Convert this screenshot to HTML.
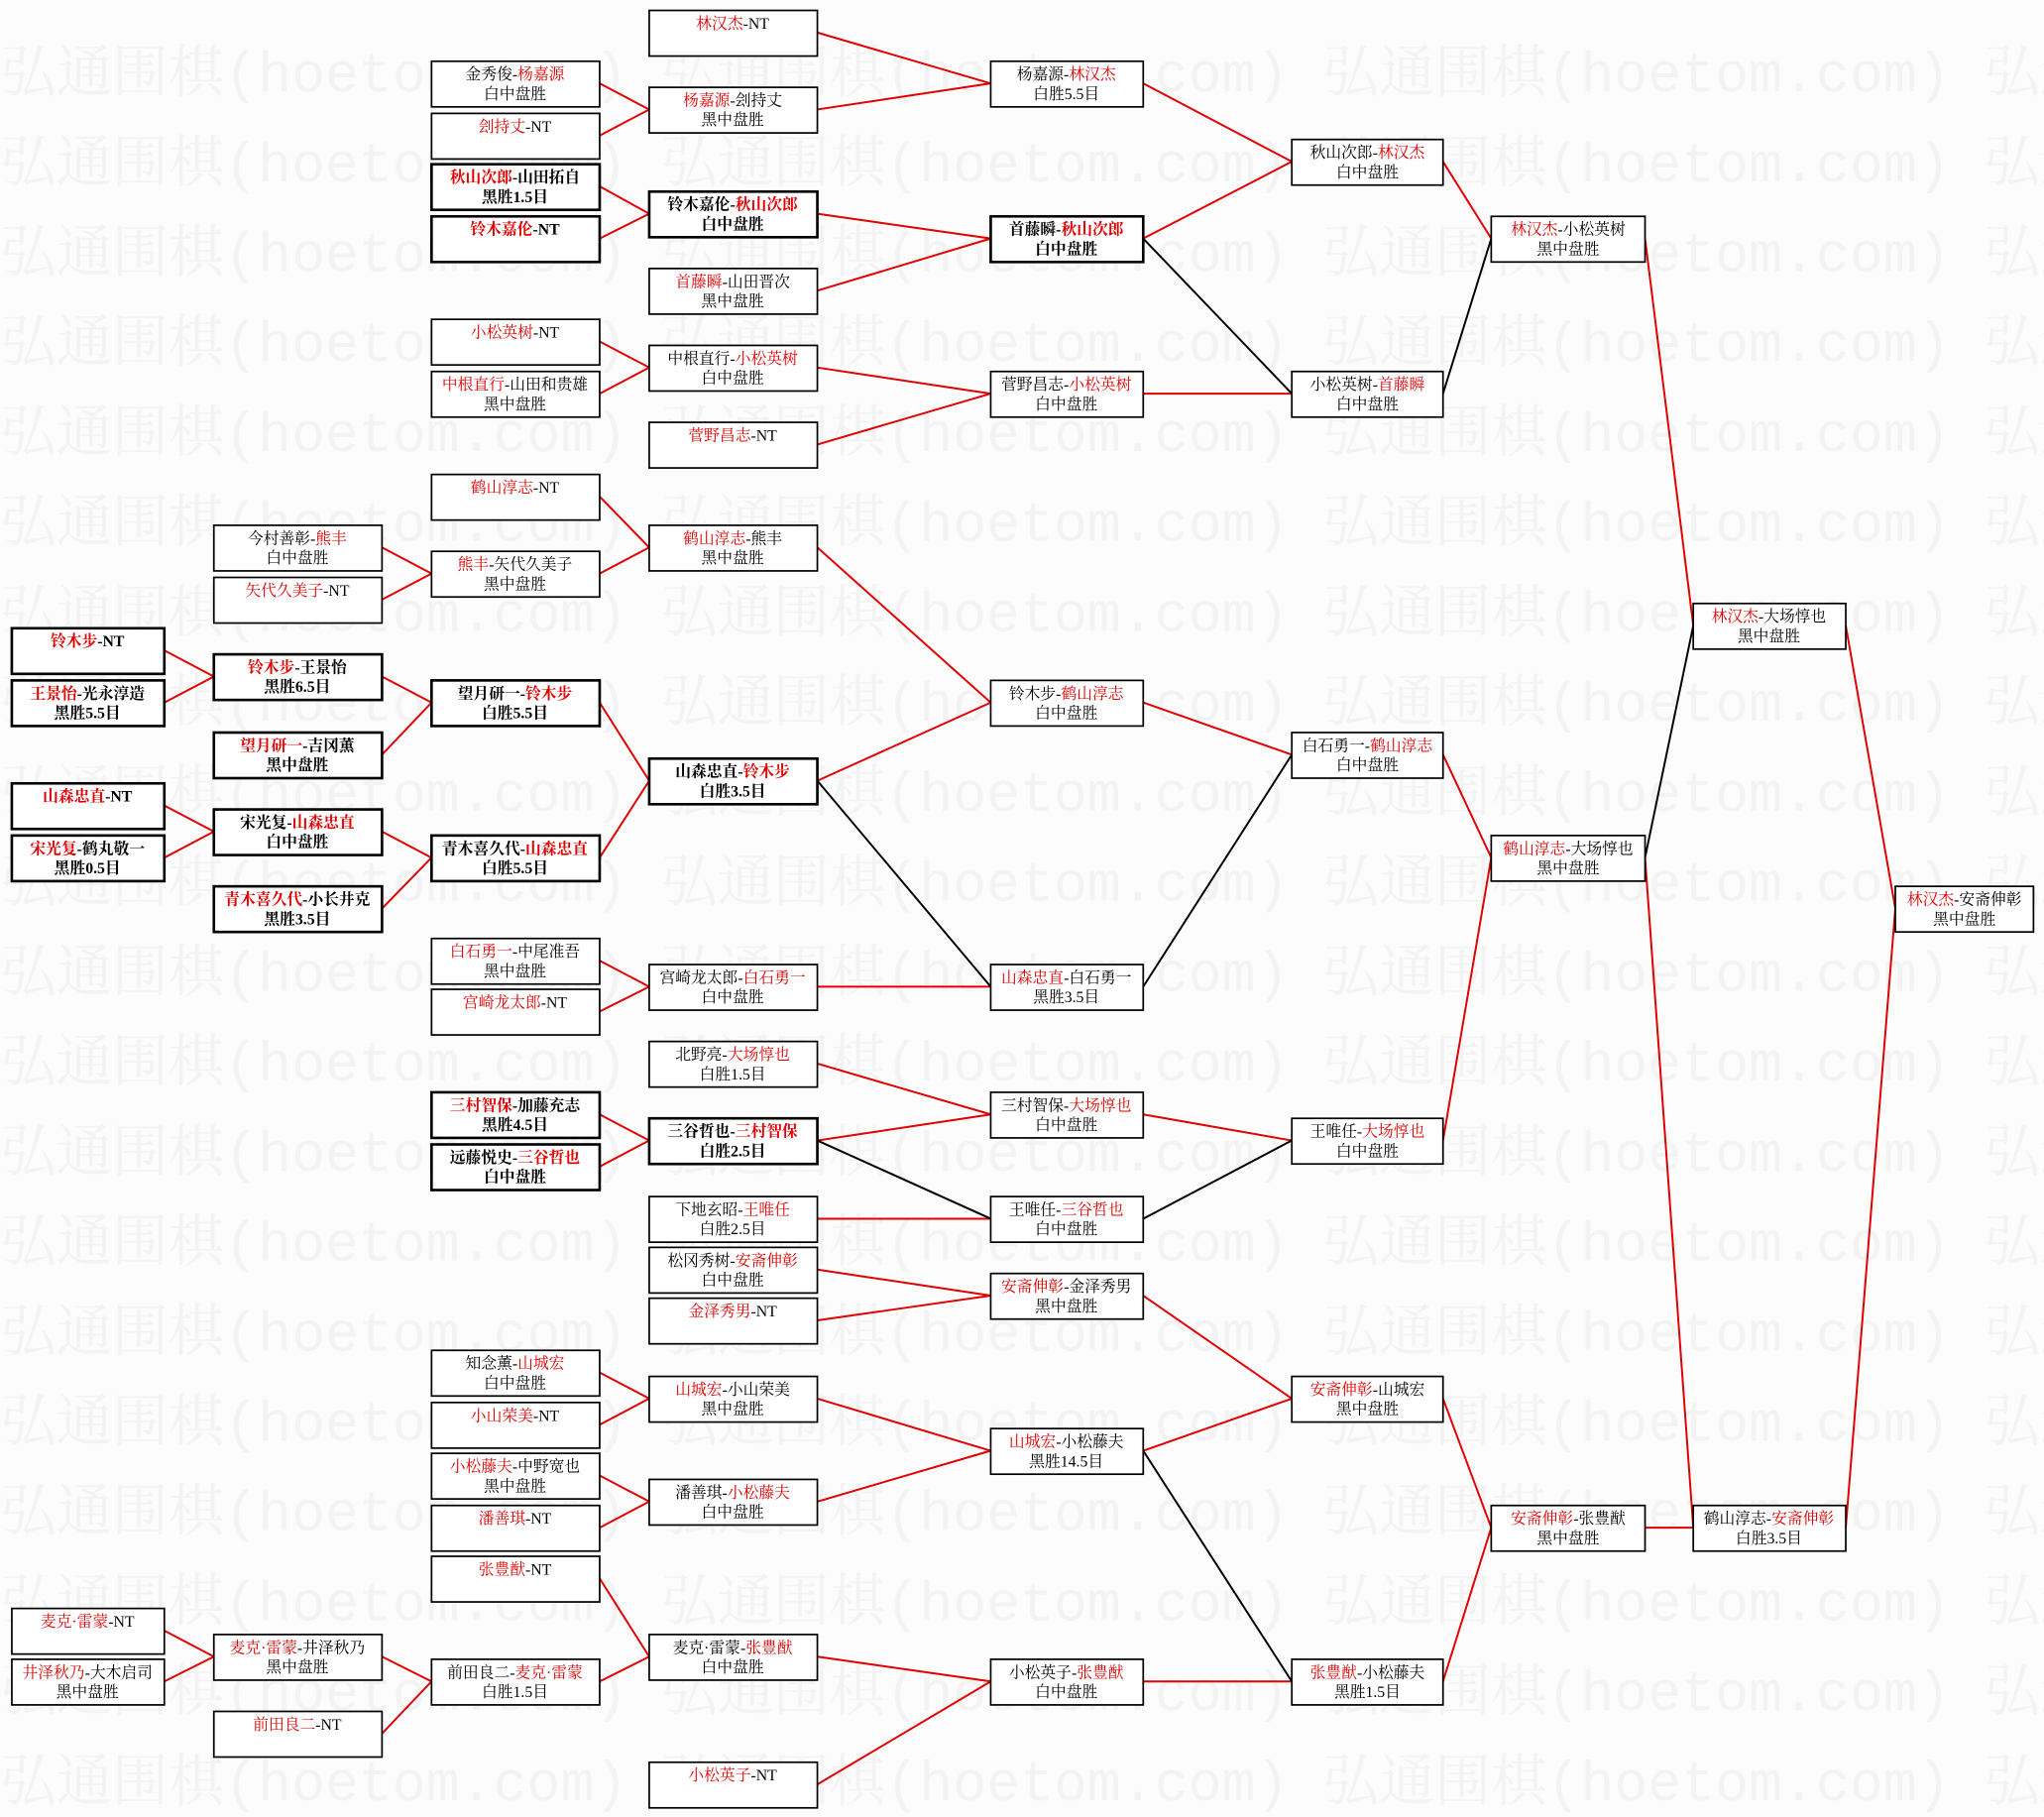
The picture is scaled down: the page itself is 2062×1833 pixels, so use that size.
<!DOCTYPE html>
<html><head><meta charset="utf-8"><style>
html,body{margin:0;padding:0;background:#fcfcfc;}
svg{display:block;}
.b rect{fill:#fff;stroke:#000;}
text{font-family:"Liberation Serif","Noto Serif CJK SC",serif;font-size:12px;fill:#000;text-anchor:middle;}
.w{font-family:"Liberation Mono","Noto Serif CJK SC",monospace;font-size:43px;fill:#f3f3f3;text-anchor:start;}
tspan.r{fill:#e00000;}
.bd text{font-weight:bold;}
line{stroke-width:1.5;}
</style></head><body>
<svg width="2062" height="1833" viewBox="0 0 1568 1394" xmlns="http://www.w3.org/2000/svg">
<rect width="1568" height="1394" fill="#fcfcfc"/>
<g id="wm">
<text class="w" x="0" y="70">弘通围棋(hoetom.com) 弘通围棋(hoetom.com) 弘通围棋(hoetom.com) 弘通围棋(hoetom.com)</text>
<text class="w" x="0" y="139">弘通围棋(hoetom.com) 弘通围棋(hoetom.com) 弘通围棋(hoetom.com) 弘通围棋(hoetom.com)</text>
<text class="w" x="0" y="208">弘通围棋(hoetom.com) 弘通围棋(hoetom.com) 弘通围棋(hoetom.com) 弘通围棋(hoetom.com)</text>
<text class="w" x="0" y="277">弘通围棋(hoetom.com) 弘通围棋(hoetom.com) 弘通围棋(hoetom.com) 弘通围棋(hoetom.com)</text>
<text class="w" x="0" y="346">弘通围棋(hoetom.com) 弘通围棋(hoetom.com) 弘通围棋(hoetom.com) 弘通围棋(hoetom.com)</text>
<text class="w" x="0" y="415">弘通围棋(hoetom.com) 弘通围棋(hoetom.com) 弘通围棋(hoetom.com) 弘通围棋(hoetom.com)</text>
<text class="w" x="0" y="484">弘通围棋(hoetom.com) 弘通围棋(hoetom.com) 弘通围棋(hoetom.com) 弘通围棋(hoetom.com)</text>
<text class="w" x="0" y="553">弘通围棋(hoetom.com) 弘通围棋(hoetom.com) 弘通围棋(hoetom.com) 弘通围棋(hoetom.com)</text>
<text class="w" x="0" y="622">弘通围棋(hoetom.com) 弘通围棋(hoetom.com) 弘通围棋(hoetom.com) 弘通围棋(hoetom.com)</text>
<text class="w" x="0" y="691">弘通围棋(hoetom.com) 弘通围棋(hoetom.com) 弘通围棋(hoetom.com) 弘通围棋(hoetom.com)</text>
<text class="w" x="0" y="760">弘通围棋(hoetom.com) 弘通围棋(hoetom.com) 弘通围棋(hoetom.com) 弘通围棋(hoetom.com)</text>
<text class="w" x="0" y="829">弘通围棋(hoetom.com) 弘通围棋(hoetom.com) 弘通围棋(hoetom.com) 弘通围棋(hoetom.com)</text>
<text class="w" x="0" y="898">弘通围棋(hoetom.com) 弘通围棋(hoetom.com) 弘通围棋(hoetom.com) 弘通围棋(hoetom.com)</text>
<text class="w" x="0" y="967">弘通围棋(hoetom.com) 弘通围棋(hoetom.com) 弘通围棋(hoetom.com) 弘通围棋(hoetom.com)</text>
<text class="w" x="0" y="1036">弘通围棋(hoetom.com) 弘通围棋(hoetom.com) 弘通围棋(hoetom.com) 弘通围棋(hoetom.com)</text>
<text class="w" x="0" y="1105">弘通围棋(hoetom.com) 弘通围棋(hoetom.com) 弘通围棋(hoetom.com) 弘通围棋(hoetom.com)</text>
<text class="w" x="0" y="1174">弘通围棋(hoetom.com) 弘通围棋(hoetom.com) 弘通围棋(hoetom.com) 弘通围棋(hoetom.com)</text>
<text class="w" x="0" y="1243">弘通围棋(hoetom.com) 弘通围棋(hoetom.com) 弘通围棋(hoetom.com) 弘通围棋(hoetom.com)</text>
<text class="w" x="0" y="1312">弘通围棋(hoetom.com) 弘通围棋(hoetom.com) 弘通围棋(hoetom.com) 弘通围棋(hoetom.com)</text>
<text class="w" x="0" y="1381">弘通围棋(hoetom.com) 弘通围棋(hoetom.com) 弘通围棋(hoetom.com) 弘通围棋(hoetom.com)</text>
</g>
<g stroke="#e00000">
<line x1="627" y1="25" x2="760" y2="64"/><line x1="627" y1="84" x2="760" y2="64"/>
<line x1="627" y1="164" x2="760" y2="183"/><line x1="627" y1="223" x2="760" y2="183"/>
<line x1="627" y1="282" x2="760" y2="302"/><line x1="627" y1="341" x2="760" y2="302"/>
<line x1="460" y1="64" x2="498" y2="84"/><line x1="460" y1="104" x2="498" y2="84"/>
<line x1="460" y1="143" x2="498" y2="164"/><line x1="460" y1="183" x2="498" y2="164"/>
<line x1="460" y1="262" x2="498" y2="282"/><line x1="460" y1="302" x2="498" y2="282"/>
<line x1="877" y1="64" x2="991" y2="124"/><line x1="877" y1="183" x2="991" y2="124"/>
<line x1="877" y1="302" x2="991" y2="302"/>
<line x1="1107" y1="124" x2="1144" y2="183"/>
<line x1="1262" y1="183" x2="1299" y2="480"/>
<line x1="1262" y1="658" x2="1299" y2="1172"/>
<line x1="1416" y1="480" x2="1454" y2="697"/><line x1="1416" y1="1172" x2="1454" y2="697"/>
<line x1="460" y1="381" x2="498" y2="420"/><line x1="460" y1="440" x2="498" y2="420"/>
<line x1="293" y1="420" x2="331" y2="440"/><line x1="293" y1="460" x2="331" y2="440"/>
<line x1="126" y1="499" x2="164" y2="519"/><line x1="126" y1="539" x2="164" y2="519"/>
<line x1="293" y1="519" x2="331" y2="539"/><line x1="293" y1="579" x2="331" y2="539"/>
<line x1="126" y1="618" x2="164" y2="638"/><line x1="126" y1="658" x2="164" y2="638"/>
<line x1="293" y1="638" x2="331" y2="658"/><line x1="293" y1="697" x2="331" y2="658"/>
<line x1="460" y1="539" x2="498" y2="599"/><line x1="460" y1="658" x2="498" y2="599"/>
<line x1="627" y1="420" x2="760" y2="539"/><line x1="627" y1="599" x2="760" y2="539"/>
<line x1="627" y1="757" x2="760" y2="757"/>
<line x1="460" y1="737" x2="498" y2="757"/><line x1="460" y1="776" x2="498" y2="757"/>
<line x1="877" y1="539" x2="991" y2="579"/>
<line x1="1107" y1="579" x2="1144" y2="658"/><line x1="1107" y1="875" x2="1144" y2="658"/>
<line x1="627" y1="816" x2="760" y2="855"/><line x1="627" y1="875" x2="760" y2="855"/>
<line x1="627" y1="935" x2="760" y2="935"/>
<line x1="460" y1="855" x2="498" y2="875"/><line x1="460" y1="895" x2="498" y2="875"/>
<line x1="877" y1="855" x2="991" y2="875"/>
<line x1="627" y1="974" x2="760" y2="994"/><line x1="627" y1="1013" x2="760" y2="994"/>
<line x1="460" y1="1053" x2="498" y2="1073"/><line x1="460" y1="1093" x2="498" y2="1073"/>
<line x1="460" y1="1132" x2="498" y2="1152"/><line x1="460" y1="1172" x2="498" y2="1152"/>
<line x1="627" y1="1073" x2="760" y2="1113"/><line x1="627" y1="1152" x2="760" y2="1113"/>
<line x1="877" y1="994" x2="991" y2="1073"/><line x1="877" y1="1113" x2="991" y2="1073"/>
<line x1="877" y1="1290" x2="991" y2="1290"/>
<line x1="1107" y1="1073" x2="1144" y2="1172"/><line x1="1107" y1="1290" x2="1144" y2="1172"/>
<line x1="1262" y1="1172" x2="1299" y2="1172"/>
<line x1="460" y1="1211" x2="498" y2="1271"/><line x1="460" y1="1290" x2="498" y2="1271"/>
<line x1="126" y1="1251" x2="164" y2="1271"/><line x1="126" y1="1290" x2="164" y2="1271"/>
<line x1="293" y1="1271" x2="331" y2="1290"/><line x1="293" y1="1330" x2="331" y2="1290"/>
<line x1="627" y1="1271" x2="760" y2="1290"/><line x1="627" y1="1369" x2="760" y2="1290"/>
</g>
<g stroke="#000">
<line x1="877" y1="183" x2="991" y2="302"/>
<line x1="1107" y1="302" x2="1144" y2="183"/>
<line x1="1262" y1="658" x2="1299" y2="480"/>
<line x1="627" y1="599" x2="760" y2="757"/>
<line x1="877" y1="757" x2="991" y2="579"/>
<line x1="627" y1="875" x2="760" y2="935"/>
<line x1="877" y1="935" x2="991" y2="875"/>
<line x1="877" y1="1113" x2="991" y2="1290"/>
</g>

<g class="b" stroke-width="1.3">
<rect x="498" y="8" width="129" height="35"/><rect x="498" y="67" width="129" height="35"/>
<rect x="498" y="206" width="129" height="35"/><rect x="498" y="265" width="129" height="35"/>
<rect x="498" y="324" width="129" height="35"/><rect x="498" y="403" width="129" height="35"/>
<rect x="498" y="740" width="129" height="35"/><rect x="498" y="799" width="129" height="35"/>
<rect x="498" y="918" width="129" height="35"/><rect x="498" y="957" width="129" height="35"/>
<rect x="498" y="996" width="129" height="35"/><rect x="498" y="1056" width="129" height="35"/>
<rect x="498" y="1135" width="129" height="35"/><rect x="498" y="1254" width="129" height="35"/>
<rect x="498" y="1352" width="129" height="35"/>
<rect x="331" y="47" width="129" height="35"/><rect x="331" y="87" width="129" height="35"/>
<rect x="331" y="245" width="129" height="35"/><rect x="331" y="285" width="129" height="35"/>
<rect x="331" y="364" width="129" height="35"/><rect x="331" y="423" width="129" height="35"/>
<rect x="331" y="720" width="129" height="35"/><rect x="331" y="759" width="129" height="35"/>
<rect x="331" y="1036" width="129" height="35"/><rect x="331" y="1076" width="129" height="35"/>
<rect x="331" y="1115" width="129" height="35"/><rect x="331" y="1155" width="129" height="35"/>
<rect x="331" y="1194" width="129" height="35"/><rect x="331" y="1273" width="129" height="35"/>
<rect x="164" y="403" width="129" height="35"/><rect x="164" y="443" width="129" height="35"/>
<rect x="164" y="1254" width="129" height="35"/><rect x="164" y="1313" width="129" height="35"/>
<rect x="9" y="1234" width="117" height="35"/><rect x="9" y="1273" width="117" height="35"/>
<rect x="760" y="47" width="117" height="35"/><rect x="760" y="285" width="117" height="35"/>
<rect x="760" y="522" width="117" height="35"/><rect x="760" y="740" width="117" height="35"/>
<rect x="760" y="838" width="117" height="35"/><rect x="760" y="918" width="117" height="35"/>
<rect x="760" y="977" width="117" height="35"/><rect x="760" y="1096" width="117" height="35"/>
<rect x="760" y="1273" width="117" height="35"/>
<rect x="991" y="107" width="116" height="35"/><rect x="991" y="285" width="116" height="35"/>
<rect x="991" y="562" width="116" height="35"/><rect x="991" y="858" width="116" height="35"/>
<rect x="991" y="1056" width="116" height="35"/><rect x="991" y="1273" width="116" height="35"/>
<rect x="1144" y="166" width="118" height="35"/><rect x="1144" y="641" width="118" height="35"/>
<rect x="1144" y="1155" width="118" height="35"/>
<rect x="1299" y="463" width="117" height="35"/><rect x="1299" y="1155" width="117" height="35"/>
<rect x="1454" y="680" width="106" height="35"/>
</g>
<g class="b" stroke-width="2">
<rect x="498" y="147" width="129" height="35"/><rect x="498" y="582" width="129" height="35"/>
<rect x="498" y="858" width="129" height="35"/>
<rect x="331" y="126" width="129" height="35"/><rect x="331" y="166" width="129" height="35"/>
<rect x="331" y="522" width="129" height="35"/><rect x="331" y="641" width="129" height="35"/>
<rect x="331" y="838" width="129" height="35"/><rect x="331" y="878" width="129" height="35"/>
<rect x="164" y="502" width="129" height="35"/><rect x="164" y="562" width="129" height="35"/>
<rect x="164" y="621" width="129" height="35"/><rect x="164" y="680" width="129" height="35"/>
<rect x="9" y="482" width="117" height="35"/><rect x="9" y="522" width="117" height="35"/>
<rect x="9" y="601" width="117" height="35"/><rect x="9" y="641" width="117" height="35"/>
<rect x="760" y="166" width="117" height="35"/>
</g>

<g>
<text x="562" y="22"><tspan class="r">林汉杰</tspan>-NT</text>
<text x="562" y="81"><tspan class="r">杨嘉源</tspan>-刽持丈</text><text x="562" y="96">黑中盘胜</text>
<text x="562" y="220"><tspan class="r">首藤瞬</tspan>-山田晋次</text><text x="562" y="235">黑中盘胜</text>
<text x="562" y="279">中根直行-<tspan class="r">小松英树</tspan></text><text x="562" y="294">白中盘胜</text>
<text x="562" y="338"><tspan class="r">菅野昌志</tspan>-NT</text>
<text x="562" y="417"><tspan class="r">鹤山淳志</tspan>-熊丰</text><text x="562" y="432">黑中盘胜</text>
<text x="562" y="754">宫崎龙太郎-<tspan class="r">白石勇一</tspan></text><text x="562" y="769">白中盘胜</text>
<text x="562" y="813">北野亮-<tspan class="r">大场惇也</tspan></text><text x="562" y="828">白胜1.5目</text>
<text x="562" y="932">下地玄昭-<tspan class="r">王唯任</tspan></text><text x="562" y="947">白胜2.5目</text>
<text x="562" y="971">松冈秀树-<tspan class="r">安斋伸彰</tspan></text><text x="562" y="986">白中盘胜</text>
<text x="562" y="1010"><tspan class="r">金泽秀男</tspan>-NT</text>
<text x="562" y="1070"><tspan class="r">山城宏</tspan>-小山荣美</text><text x="562" y="1085">黑中盘胜</text>
<text x="562" y="1149">潘善琪-<tspan class="r">小松藤夫</tspan></text><text x="562" y="1164">白中盘胜</text>
<text x="562" y="1268">麦克·雷蒙-<tspan class="r">张豊猷</tspan></text><text x="562" y="1283">白中盘胜</text>
<text x="562" y="1366"><tspan class="r">小松英子</tspan>-NT</text>

<text x="395" y="61">金秀俊-<tspan class="r">杨嘉源</tspan></text><text x="395" y="76">白中盘胜</text>
<text x="395" y="101"><tspan class="r">刽持丈</tspan>-NT</text>
<text x="395" y="259"><tspan class="r">小松英树</tspan>-NT</text>
<text x="395" y="299"><tspan class="r">中根直行</tspan>-山田和贵雄</text><text x="395" y="314">黑中盘胜</text>
<text x="395" y="378"><tspan class="r">鹤山淳志</tspan>-NT</text>
<text x="395" y="437"><tspan class="r">熊丰</tspan>-矢代久美子</text><text x="395" y="452">黑中盘胜</text>
<text x="395" y="734"><tspan class="r">白石勇一</tspan>-中尾准吾</text><text x="395" y="749">黑中盘胜</text>
<text x="395" y="773"><tspan class="r">宫崎龙太郎</tspan>-NT</text>
<text x="395" y="1050">知念薰-<tspan class="r">山城宏</tspan></text><text x="395" y="1065">白中盘胜</text>
<text x="395" y="1090"><tspan class="r">小山荣美</tspan>-NT</text>
<text x="395" y="1129"><tspan class="r">小松藤夫</tspan>-中野宽也</text><text x="395" y="1144">黑中盘胜</text>
<text x="395" y="1169"><tspan class="r">潘善琪</tspan>-NT</text>
<text x="395" y="1208"><tspan class="r">张豊猷</tspan>-NT</text>
<text x="395" y="1287">前田良二-<tspan class="r">麦克·雷蒙</tspan></text><text x="395" y="1302">白胜1.5目</text>

<text x="228" y="417">今村善彰-<tspan class="r">熊丰</tspan></text><text x="228" y="432">白中盘胜</text>
<text x="228" y="457"><tspan class="r">矢代久美子</tspan>-NT</text>
<text x="228" y="1268"><tspan class="r">麦克·雷蒙</tspan>-井泽秋乃</text><text x="228" y="1283">黑中盘胜</text>
<text x="228" y="1327"><tspan class="r">前田良二</tspan>-NT</text>
<text x="67" y="1248"><tspan class="r">麦克·雷蒙</tspan>-NT</text>
<text x="67" y="1287"><tspan class="r">井泽秋乃</tspan>-大木启司</text><text x="67" y="1302">黑中盘胜</text>

<text x="818" y="61">杨嘉源-<tspan class="r">林汉杰</tspan></text><text x="818" y="76">白胜5.5目</text>
<text x="818" y="299">菅野昌志-<tspan class="r">小松英树</tspan></text><text x="818" y="314">白中盘胜</text>
<text x="818" y="536">铃木步-<tspan class="r">鹤山淳志</tspan></text><text x="818" y="551">白中盘胜</text>
<text x="818" y="754"><tspan class="r">山森忠直</tspan>-白石勇一</text><text x="818" y="769">黑胜3.5目</text>
<text x="818" y="852">三村智保-<tspan class="r">大场惇也</tspan></text><text x="818" y="867">白中盘胜</text>
<text x="818" y="932">王唯任-<tspan class="r">三谷哲也</tspan></text><text x="818" y="947">白中盘胜</text>
<text x="818" y="991"><tspan class="r">安斋伸彰</tspan>-金泽秀男</text><text x="818" y="1006">黑中盘胜</text>
<text x="818" y="1110"><tspan class="r">山城宏</tspan>-小松藤夫</text><text x="818" y="1125">黑胜14.5目</text>
<text x="818" y="1287">小松英子-<tspan class="r">张豊猷</tspan></text><text x="818" y="1302">白中盘胜</text>

<text x="1049" y="121">秋山次郎-<tspan class="r">林汉杰</tspan></text><text x="1049" y="136">白中盘胜</text>
<text x="1049" y="299">小松英树-<tspan class="r">首藤瞬</tspan></text><text x="1049" y="314">白中盘胜</text>
<text x="1049" y="576">白石勇一-<tspan class="r">鹤山淳志</tspan></text><text x="1049" y="591">白中盘胜</text>
<text x="1049" y="872">王唯任-<tspan class="r">大场惇也</tspan></text><text x="1049" y="887">白中盘胜</text>
<text x="1049" y="1070"><tspan class="r">安斋伸彰</tspan>-山城宏</text><text x="1049" y="1085">黑中盘胜</text>
<text x="1049" y="1287"><tspan class="r">张豊猷</tspan>-小松藤夫</text><text x="1049" y="1302">黑胜1.5目</text>

<text x="1203" y="180"><tspan class="r">林汉杰</tspan>-小松英树</text><text x="1203" y="195">黑中盘胜</text>
<text x="1203" y="655"><tspan class="r">鹤山淳志</tspan>-大场惇也</text><text x="1203" y="670">黑中盘胜</text>
<text x="1203" y="1169"><tspan class="r">安斋伸彰</tspan>-张豊猷</text><text x="1203" y="1184">黑中盘胜</text>
<text x="1357" y="477"><tspan class="r">林汉杰</tspan>-大场惇也</text><text x="1357" y="492">黑中盘胜</text>
<text x="1357" y="1169">鹤山淳志-<tspan class="r">安斋伸彰</tspan></text><text x="1357" y="1184">白胜3.5目</text>
<text x="1507" y="694"><tspan class="r">林汉杰</tspan>-安斋伸彰</text><text x="1507" y="709">黑中盘胜</text>
</g>
<g class="bd">
<text x="562" y="161">铃木嘉伦-<tspan class="r">秋山次郎</tspan></text><text x="562" y="176">白中盘胜</text>
<text x="562" y="596">山森忠直-<tspan class="r">铃木步</tspan></text><text x="562" y="611">白胜3.5目</text>
<text x="562" y="872">三谷哲也-<tspan class="r">三村智保</tspan></text><text x="562" y="887">白胜2.5目</text>
<text x="395" y="140"><tspan class="r">秋山次郎</tspan>-山田拓自</text><text x="395" y="155">黑胜1.5目</text>
<text x="395" y="180"><tspan class="r">铃木嘉伦</tspan>-NT</text>
<text x="395" y="536">望月研一-<tspan class="r">铃木步</tspan></text><text x="395" y="551">白胜5.5目</text>
<text x="395" y="655">青木喜久代-<tspan class="r">山森忠直</tspan></text><text x="395" y="670">白胜5.5目</text>
<text x="395" y="852"><tspan class="r">三村智保</tspan>-加藤充志</text><text x="395" y="867">黑胜4.5目</text>
<text x="395" y="892">远藤悦史-<tspan class="r">三谷哲也</tspan></text><text x="395" y="907">白中盘胜</text>
<text x="228" y="516"><tspan class="r">铃木步</tspan>-王景怡</text><text x="228" y="531">黑胜6.5目</text>
<text x="228" y="576"><tspan class="r">望月研一</tspan>-吉冈薫</text><text x="228" y="591">黑中盘胜</text>
<text x="228" y="635">宋光复-<tspan class="r">山森忠直</tspan></text><text x="228" y="650">白中盘胜</text>
<text x="228" y="694"><tspan class="r">青木喜久代</tspan>-小长井克</text><text x="228" y="709">黑胜3.5目</text>
<text x="67" y="496"><tspan class="r">铃木步</tspan>-NT</text>
<text x="67" y="536"><tspan class="r">王景怡</tspan>-光永淳造</text><text x="67" y="551">黑胜5.5目</text>
<text x="67" y="615"><tspan class="r">山森忠直</tspan>-NT</text>
<text x="67" y="655"><tspan class="r">宋光复</tspan>-鹤丸敬一</text><text x="67" y="670">黑胜0.5目</text>
<text x="818" y="180">首藤瞬-<tspan class="r">秋山次郎</tspan></text><text x="818" y="195">白中盘胜</text>
</g>
</svg>
</body></html>
